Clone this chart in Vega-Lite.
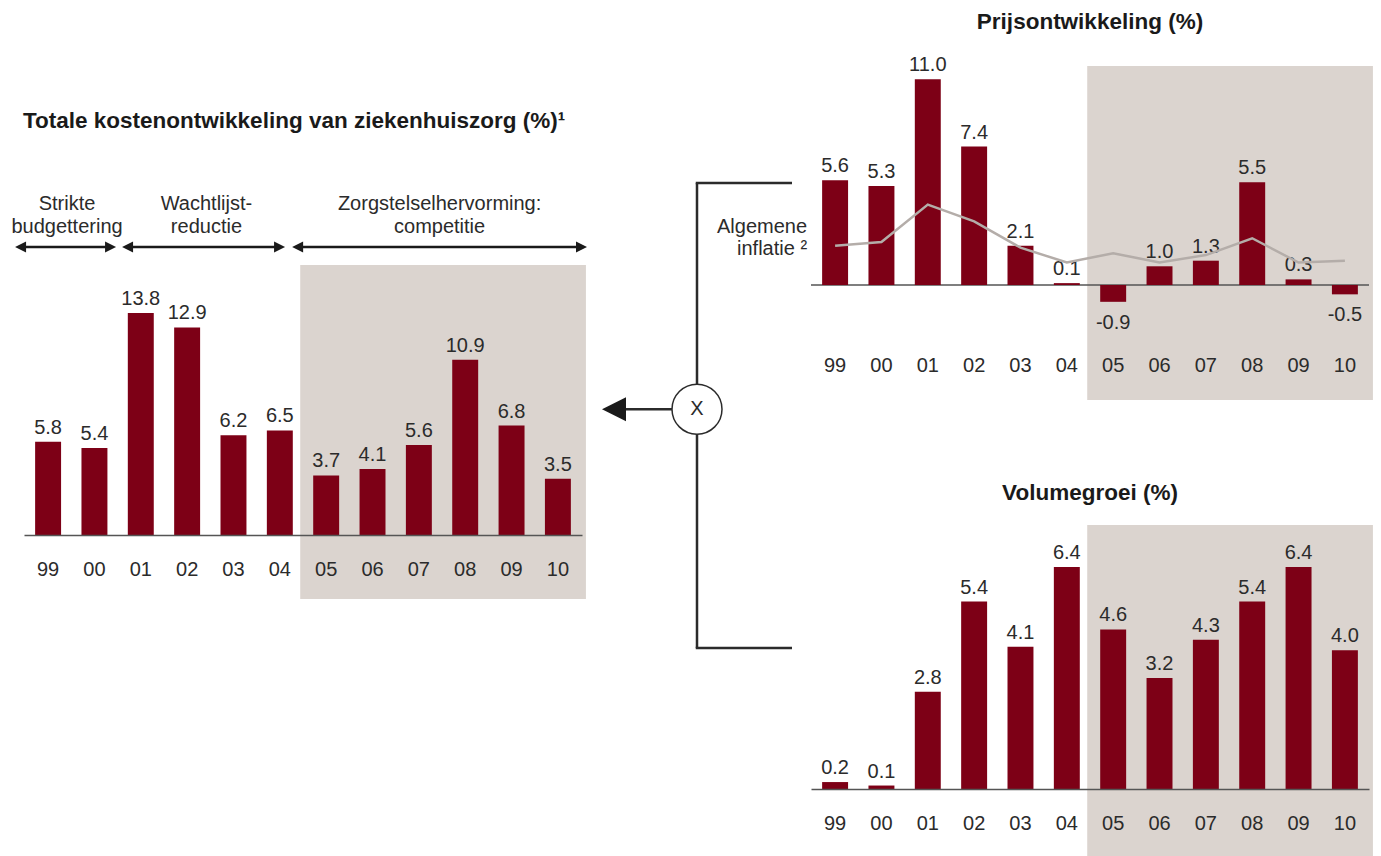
{
  "$schema": "https://vega.github.io/schema/vega-lite/v6.json",
  "background": "white",
  "padding": {"left": 11, "top": 10, "right": 5, "bottom": 0},
  "autosize": {"type": "pad"},
  "bounds": "flush",
  "spacing": 0,
  "config": {
    "view": {"stroke": null},
    "font": "Liberation Sans",
    "locale": {"number": {"decimal": ".", "thousands": ",", "grouping": [3], "currency": ["", ""], "minus": "-"}},
    "title": {"font": "Liberation Sans", "fontSize": 22.5, "fontWeight": "bold", "color": "#1a1a1a", "baseline": "alphabetic"},
    "text": {"font": "Liberation Sans", "fontSize": 20, "color": "#2b2b2b"},
    "axisX": {"ticks": false, "grid": false, "labelAngle": 0, "labelFont": "Liberation Sans", "labelFontSize": 20, "labelColor": "#2b2b2b", "labelBaseline": "middle", "domainColor": "#555555", "domainWidth": 1.5}
  },
  "datasets": {
    "jaren": [
      {"jaar": "99", "totaal": 5.8, "prijs": 5.6, "inflatie": 2.1, "volume": 0.2},
      {"jaar": "00", "totaal": 5.4, "prijs": 5.3, "inflatie": 2.3, "volume": 0.1},
      {"jaar": "01", "totaal": 13.8, "prijs": 11.0, "inflatie": 4.3, "volume": 2.8},
      {"jaar": "02", "totaal": 12.9, "prijs": 7.4, "inflatie": 3.4, "volume": 5.4},
      {"jaar": "03", "totaal": 6.2, "prijs": 2.1, "inflatie": 2.0, "volume": 4.1},
      {"jaar": "04", "totaal": 6.5, "prijs": 0.1, "inflatie": 1.2, "volume": 6.4},
      {"jaar": "05", "totaal": 3.7, "prijs": -0.9, "inflatie": 1.7, "volume": 4.6},
      {"jaar": "06", "totaal": 4.1, "prijs": 1.0, "inflatie": 1.2, "volume": 3.2},
      {"jaar": "07", "totaal": 5.6, "prijs": 1.3, "inflatie": 1.6, "volume": 4.3},
      {"jaar": "08", "totaal": 10.9, "prijs": 5.5, "inflatie": 2.5, "volume": 5.4},
      {"jaar": "09", "totaal": 6.8, "prijs": 0.3, "inflatie": 1.2, "volume": 6.4},
      {"jaar": "10", "totaal": 3.5, "prijs": -0.5, "inflatie": 1.3, "volume": 4.0}
    ],
    "perioden": [
      {"periode": "Strikte budgettering", "label": "Strikte\nbudgettering", "van": "99", "tot": "00"},
      {"periode": "Wachtlijstreductie", "label": "Wachtlijst-\nreductie", "van": "01", "tot": "04"},
      {"periode": "Zorgstelselhervorming: competitie", "label": "Zorgstelselhervorming:\ncompetitie", "van": "05", "tot": "10"}
    ]
  },
  "hconcat": [
    {
      "width": 558,
      "height": 469,
      "title": {"text": "Totale kostenontwikkeling van ziekenhuiszorg (%)¹", "anchor": "start", "frame": "group", "offset": -66, "dx": -1},
      "layer": [
        {
          "data": {"name": "perioden"},
          "transform": [{"filter": "datum.van === '05'"}],
          "mark": {"type": "rect", "color": "#dbd4cf"},
          "encoding": {
            "x": {"field": "van", "type": "ordinal", "bandPosition": -0.5, "title": null, "scale": {"type": "band", "domain": ["99","00","01","02","03","04","05","06","07","08","09","10"], "paddingInner": 0.44, "paddingOuter": 0.24}},
            "x2": {"field": "tot", "bandPosition": 1.58},
            "y": {"datum": 16.78, "type": "quantitative", "scale": {"domain": [0, 29.15], "nice": false, "zero": false}, "axis": null},
            "y2": {"datum": -3.98}
          }
        },
        {
          "data": {"name": "jaren"},
          "mark": {"type": "bar", "color": "#7d0016"},
          "encoding": {
            "x": {"field": "jaar", "type": "ordinal", "title": null, "scale": {"type": "band", "domain": ["99","00","01","02","03","04","05","06","07","08","09","10"], "paddingInner": 0.44, "paddingOuter": 0.24}, "axis": {"title": null, "labelPadding": 34, "domain": true}},
            "y": {"field": "totaal", "type": "quantitative", "scale": {"domain": [0, 29.15], "nice": false, "zero": false}, "axis": null}
          }
        },
        {
          "data": {"name": "jaren"},
          "mark": {"type": "text", "baseline": "alphabetic", "dy": -8},
          "encoding": {
            "x": {"field": "jaar", "type": "ordinal", "title": null},
            "y": {"field": "totaal", "type": "quantitative", "axis": null},
            "text": {"field": "totaal", "type": "quantitative", "format": ".1f"}
          }
        },
        {
          "data": {"name": "perioden"},
          "transform": [{"filter": "datum.van === '99'"}],
          "layer": [
            {"mark": {"type": "rule", "color": "#1a1a1a", "strokeWidth": 2.5}, "encoding": {"x": {"field": "van", "type": "ordinal", "bandPosition": -0.56, "title": null}, "x2": {"field": "tot", "bandPosition": 1.12}, "y": {"datum": 17.9, "type": "quantitative", "axis": null}}},
            {"mark": {"type": "point", "shape": "M-1,0L1,-1L1,1Z", "size": 121, "filled": true, "opacity": 1, "color": "#1a1a1a", "strokeWidth": 0}, "encoding": {"x": {"field": "van", "type": "ordinal", "bandPosition": -0.56, "title": null}, "y": {"datum": 17.9, "type": "quantitative", "axis": null}}},
            {"mark": {"type": "point", "shape": "M1,0L-1,-1L-1,1Z", "size": 121, "filled": true, "opacity": 1, "color": "#1a1a1a", "strokeWidth": 0}, "encoding": {"x": {"field": "tot", "type": "ordinal", "bandPosition": 1.12, "title": null}, "y": {"datum": 17.9, "type": "quantitative", "axis": null}}},
            {"mark": {"type": "text", "align": "center", "baseline": "alphabetic", "lineBreak": "\n", "lineHeight": 23}, "encoding": {"x": {"field": "van", "type": "ordinal", "bandPosition": 1.23, "title": null}, "y": {"datum": 20.2, "type": "quantitative", "axis": null}, "text": {"field": "label"}}}
          ]
        },
        {
          "data": {"name": "perioden"},
          "transform": [{"filter": "datum.van === '01'"}],
          "layer": [
            {"mark": {"type": "rule", "color": "#1a1a1a", "strokeWidth": 2.5}, "encoding": {"x": {"field": "van", "type": "ordinal", "bandPosition": -0.01, "title": null}, "x2": {"field": "tot", "bandPosition": 0.49}, "y": {"datum": 17.9, "type": "quantitative", "axis": null}}},
            {"mark": {"type": "point", "shape": "M-1,0L1,-1L1,1Z", "size": 121, "filled": true, "opacity": 1, "color": "#1a1a1a", "strokeWidth": 0}, "encoding": {"x": {"field": "van", "type": "ordinal", "bandPosition": -0.01, "title": null}, "y": {"datum": 17.9, "type": "quantitative", "axis": null}}},
            {"mark": {"type": "point", "shape": "M1,0L-1,-1L-1,1Z", "size": 121, "filled": true, "opacity": 1, "color": "#1a1a1a", "strokeWidth": 0}, "encoding": {"x": {"field": "tot", "type": "ordinal", "bandPosition": 0.49, "title": null}, "y": {"datum": 17.9, "type": "quantitative", "axis": null}}},
            {"mark": {"type": "text", "align": "center", "baseline": "alphabetic", "lineBreak": "\n", "lineHeight": 23}, "encoding": {"x": {"field": "van", "type": "ordinal", "bandPosition": 3.03, "title": null}, "y": {"datum": 20.2, "type": "quantitative", "axis": null}, "text": {"field": "label"}}}
          ]
        },
        {
          "data": {"name": "perioden"},
          "transform": [{"filter": "datum.van === '05'"}],
          "layer": [
            {"mark": {"type": "rule", "color": "#1a1a1a", "strokeWidth": 2.5}, "encoding": {"x": {"field": "van", "type": "ordinal", "bandPosition": -0.6, "title": null}, "x2": {"field": "tot", "bandPosition": 1.41}, "y": {"datum": 17.9, "type": "quantitative", "axis": null}}},
            {"mark": {"type": "point", "shape": "M-1,0L1,-1L1,1Z", "size": 121, "filled": true, "opacity": 1, "color": "#1a1a1a", "strokeWidth": 0}, "encoding": {"x": {"field": "van", "type": "ordinal", "bandPosition": -0.6, "title": null}, "y": {"datum": 17.9, "type": "quantitative", "axis": null}}},
            {"mark": {"type": "point", "shape": "M1,0L-1,-1L-1,1Z", "size": 121, "filled": true, "opacity": 1, "color": "#1a1a1a", "strokeWidth": 0}, "encoding": {"x": {"field": "tot", "type": "ordinal", "bandPosition": 1.41, "title": null}, "y": {"datum": 17.9, "type": "quantitative", "axis": null}}},
            {"mark": {"type": "text", "align": "center", "baseline": "alphabetic", "lineBreak": "\n", "lineHeight": 23}, "encoding": {"x": {"field": "van", "type": "ordinal", "bandPosition": 4.87, "title": null}, "y": {"datum": 20.2, "type": "quantitative", "axis": null}, "text": {"field": "label"}}}
          ]
        }
      ]
    },
    {
      "width": 229,
      "height": 600,
      "data": {"values": [{"bewerking": "X"}]},
      "layer": [
        {"mark": {"type": "rule", "color": "#2b2b2b", "strokeWidth": 2.5}, "encoding": {"x": {"datum": 0.5022, "type": "quantitative", "scale": {"domain": [0, 1], "nice": false, "zero": false}, "axis": null}, "y": {"datum": 0.805, "type": "quantitative", "scale": {"domain": [0, 1], "nice": false, "zero": false}, "axis": null}, "y2": {"datum": 0.03}}},
        {"mark": {"type": "rule", "color": "#2b2b2b", "strokeWidth": 2.5}, "encoding": {"x": {"datum": 0.4967, "type": "quantitative"}, "x2": {"datum": 0.917}, "y": {"datum": 0.805, "type": "quantitative"}}},
        {"mark": {"type": "rule", "color": "#2b2b2b", "strokeWidth": 2.5}, "encoding": {"x": {"datum": 0.4967, "type": "quantitative"}, "x2": {"datum": 0.917}, "y": {"datum": 0.03, "type": "quantitative"}}},
        {"mark": {"type": "rule", "color": "#2b2b2b", "strokeWidth": 2.5}, "encoding": {"x": {"datum": 0.179, "type": "quantitative"}, "x2": {"datum": 0.40}, "y": {"datum": 0.428, "type": "quantitative"}}},
        {"mark": {"type": "point", "shape": "M-1,0L1,-1L1,1Z", "size": 576, "filled": true, "opacity": 1, "color": "#1a1a1a", "strokeWidth": 0}, "encoding": {"x": {"datum": 0.1397, "type": "quantitative"}, "y": {"datum": 0.428, "type": "quantitative"}}},
        {"mark": {"type": "point", "shape": "circle", "size": 2500, "filled": true, "fill": "white", "stroke": "#2b2b2b", "strokeWidth": 1.5, "opacity": 1}, "encoding": {"x": {"datum": 0.5022, "type": "quantitative"}, "y": {"datum": 0.428, "type": "quantitative"}}},
        {"mark": {"type": "text", "align": "center", "baseline": "middle", "fontSize": 20}, "encoding": {"x": {"datum": 0.5022, "type": "quantitative"}, "y": {"datum": 0.428, "type": "quantitative"}, "text": {"field": "bewerking"}}}
      ]
    },
    {
      "vconcat": [
        {
          "width": 558,
          "height": 279,
          "title": {"text": "Prijsontwikkeling (%)", "anchor": "middle", "frame": "group", "offset": 22},
          "layer": [
            {
              "data": {"name": "perioden"},
              "transform": [{"filter": "datum.van === '05'"}],
              "mark": {"type": "rect", "color": "#dbd4cf"},
              "encoding": {
                "x": {"field": "van", "type": "ordinal", "bandPosition": -0.5, "title": null, "scale": {"type": "band", "domain": ["99","00","01","02","03","04","05","06","07","08","09","10"], "paddingInner": 0.44, "paddingOuter": 0.24}},
                "x2": {"field": "tot", "bandPosition": 1.58},
                "y": {"datum": 11.711, "type": "quantitative", "scale": {"domain": [-3.209, 11.711], "nice": false, "zero": false}, "axis": null},
                "y2": {"datum": -6.15}
              }
            },
            {
              "data": {"values": [{"nullijn": 0}]},
              "mark": {"type": "rule", "color": "#555555", "strokeWidth": 1.5},
              "encoding": {"y": {"field": "nullijn", "type": "quantitative", "axis": null}}
            },
            {
              "data": {"name": "jaren"},
              "mark": {"type": "bar", "color": "#7d0016"},
              "encoding": {
                "x": {"field": "jaar", "type": "ordinal", "title": null, "scale": {"type": "band", "domain": ["99","00","01","02","03","04","05","06","07","08","09","10"], "paddingInner": 0.44, "paddingOuter": 0.24}, "axis": {"title": null, "labelPadding": 20, "domain": false}},
                "y": {"field": "prijs", "type": "quantitative", "scale": {"domain": [-3.209, 11.711], "nice": false, "zero": false}, "axis": null}
              }
            },
            {
              "data": {"name": "jaren"},
              "transform": [{"filter": "datum.prijs >= 0"}],
              "mark": {"type": "text", "baseline": "alphabetic", "dy": -8},
              "encoding": {
                "x": {"field": "jaar", "type": "ordinal", "title": null},
                "y": {"field": "prijs", "type": "quantitative", "axis": null},
                "text": {"field": "prijs", "type": "quantitative", "format": ".1f"}
              }
            },
            {
              "data": {"name": "jaren"},
              "transform": [{"filter": "datum.prijs < 0"}],
              "mark": {"type": "text", "baseline": "top", "dy": 11},
              "encoding": {
                "x": {"field": "jaar", "type": "ordinal", "title": null},
                "y": {"field": "prijs", "type": "quantitative", "axis": null},
                "text": {"field": "prijs", "type": "quantitative", "format": ".1f"}
              }
            },
            {
              "data": {"name": "jaren"},
              "mark": {"type": "line", "color": "#b4ada9", "strokeWidth": 2.5},
              "encoding": {
                "x": {"field": "jaar", "type": "ordinal", "title": null},
                "y": {"field": "inflatie", "type": "quantitative", "axis": null}
              }
            },
            {
              "data": {"name": "jaren"},
              "transform": [{"filter": "datum.jaar === '99'"}],
              "mark": {"type": "text", "align": "right", "baseline": "alphabetic", "lineBreak": "\n", "lineHeight": 22},
              "encoding": {
                "x": {"field": "jaar", "type": "ordinal", "bandPosition": -0.58, "title": null},
                "y": {"datum": 2.78, "type": "quantitative", "axis": null},
                "text": {"value": "Algemene\ninflatie ²"}
              }
            }
          ]
        },
        {
          "width": 558,
          "height": 264,
          "title": {"text": "Volumegroei (%)", "anchor": "middle", "frame": "group", "offset": 21},
          "layer": [
            {
              "data": {"name": "perioden"},
              "transform": [{"filter": "datum.van === '05'"}],
              "mark": {"type": "rect", "color": "#dbd4cf"},
              "encoding": {
                "x": {"field": "van", "type": "ordinal", "bandPosition": -0.5, "title": null, "scale": {"type": "band", "domain": ["99","00","01","02","03","04","05","06","07","08","09","10"], "paddingInner": 0.44, "paddingOuter": 0.24}},
                "x2": {"field": "tot", "bandPosition": 1.58},
                "y": {"datum": 7.608, "type": "quantitative", "scale": {"domain": [0, 7.608], "nice": false, "zero": false}, "axis": null},
                "y2": {"datum": -2.1}
              }
            },
            {
              "data": {"name": "jaren"},
              "mark": {"type": "bar", "color": "#7d0016"},
              "encoding": {
                "x": {"field": "jaar", "type": "ordinal", "title": null, "scale": {"type": "band", "domain": ["99","00","01","02","03","04","05","06","07","08","09","10"], "paddingInner": 0.44, "paddingOuter": 0.24}, "axis": {"title": null, "labelPadding": 34, "domain": true}},
                "y": {"field": "volume", "type": "quantitative", "scale": {"domain": [0, 7.608], "nice": false, "zero": false}, "axis": null}
              }
            },
            {
              "data": {"name": "jaren"},
              "mark": {"type": "text", "baseline": "alphabetic", "dy": -8},
              "encoding": {
                "x": {"field": "jaar", "type": "ordinal", "title": null},
                "y": {"field": "volume", "type": "quantitative", "axis": null},
                "text": {"field": "volume", "type": "quantitative", "format": ".1f"}
              }
            }
          ]
        }
      ],
      "spacing": 180,
      "bounds": "flush"
    }
  ]
}
